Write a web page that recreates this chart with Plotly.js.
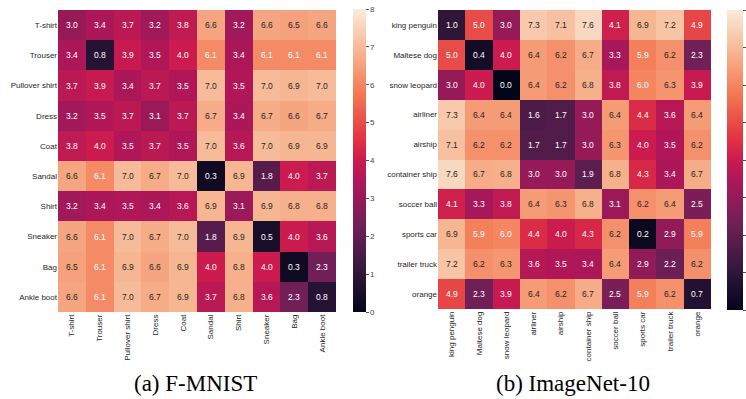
<!DOCTYPE html>
<html><head><meta charset="utf-8">
<script src="https://cdn.plot.ly/plotly-3.0.1.min.js"></script>
<style>body{margin:0;background:#fff}#chart{width:746px;height:399px}</style>
</head><body><div id="chart"></div>
<script>
const fmnistLabels = ["T-shirt","Trouser","Pullover shirt","Dress","Coat","Sandal","Shirt","Sneaker","Bag","Ankle boot"];
const fmnistValues = [
  [3.0,3.4,3.7,3.2,3.8,6.6,3.2,6.6,6.5,6.6],
  [3.4,0.8,3.9,3.5,4.0,6.1,3.4,6.1,6.1,6.1],
  [3.7,3.9,3.4,3.7,3.5,7.0,3.5,7.0,6.9,7.0],
  [3.2,3.5,3.7,3.1,3.7,6.7,3.4,6.7,6.6,6.7],
  [3.8,4.0,3.5,3.7,3.5,7.0,3.6,7.0,6.9,6.9],
  [6.6,6.1,7.0,6.7,7.0,0.3,6.9,1.8,4.0,3.7],
  [3.2,3.4,3.5,3.4,3.6,6.9,3.1,6.9,6.8,6.8],
  [6.6,6.1,7.0,6.7,7.0,1.8,6.9,0.5,4.0,3.6],
  [6.5,6.1,6.9,6.6,6.9,4.0,6.8,4.0,0.3,2.3],
  [6.6,6.1,7.0,6.7,6.9,3.7,6.8,3.6,2.3,0.8]
];
const imagenetLabels = ["king penguin","Maltese dog","snow leopard","airliner","airship","container ship","soccer ball","sports car","trailer truck","orange"];
const imagenetValues = [
  [1.0,5.0,3.0,7.3,7.1,7.6,4.1,6.9,7.2,4.9],
  [5.0,0.4,4.0,6.4,6.2,6.7,3.3,5.9,6.2,2.3],
  [3.0,4.0,0.0,6.4,6.2,6.8,3.8,6.0,6.3,3.9],
  [7.3,6.4,6.4,1.6,1.7,3.0,6.4,4.4,3.6,6.4],
  [7.1,6.2,6.2,1.7,1.7,3.0,6.3,4.0,3.5,6.2],
  [7.6,6.7,6.8,3.0,3.0,1.9,6.8,4.3,3.4,6.7],
  [4.1,3.3,3.8,6.4,6.3,6.8,3.1,6.2,6.4,2.5],
  [6.9,5.9,6.0,4.4,4.0,4.3,6.2,0.2,2.9,5.9],
  [7.2,6.2,6.3,3.6,3.5,3.4,6.4,2.9,2.2,6.2],
  [4.9,2.3,3.9,6.4,6.2,6.7,2.5,5.9,6.2,0.7]
];
const captions = ["(a) F-MNIST","(b) ImageNet-10"];
const colorbarTicks = [0,1,2,3,4,5,6,7,8];

const rocket = [
  [0.0,"#03051a"],[0.143,"#35193e"],[0.286,"#701f57"],[0.429,"#ad1759"],
  [0.5,"#cb1b4f"],[0.571,"#e13342"],[0.714,"#f37651"],[0.857,"#f6b48f"],[1.0,"#faebdd"]
];
const tickFont = {family:"Liberation Sans, Arial, sans-serif", size:8, color:"#262626"};

function hm(z, labels, xa, ya, cb){
  return {type:"heatmap", z:z, x:labels, y:labels, xaxis:xa, yaxis:ya,
    colorscale:rocket, zmin:0, zmax:8, colorbar:cb, hoverinfo:"skip"};
}
const cbBase = {outlinewidth:0, xanchor:"left", yanchor:"top", lenmode:"fraction",
  xpad:0, ypad:0, tickvals:colorbarTicks, ticks:"outside", ticklen:3, tickwidth:1,
  tickcolor:"#555", tickfont:{family:"Liberation Sans, Arial, sans-serif", size:8, color:"#444"}};

const data = [
  hm(fmnistValues, fmnistLabels, "x", "y", Object.assign({}, cbBase, {x:353/746, y:1-9/399, len:303/399, thickness:13})),
  hm(imagenetValues, imagenetLabels, "x2", "y2", Object.assign({}, cbBase, {x:727/746, y:1-10/399, len:300/399, thickness:16, showticklabels:false}))
];

const annotations = [];
function addCells(z, labels, xr, yr){
  z.forEach((row,i)=>row.forEach((v,j)=>{
    annotations.push({xref:xr, yref:yr, x:labels[j], y:labels[i], text:v.toFixed(1), showarrow:false,
      font:{family:"Liberation Sans, Arial, sans-serif", size:8.5, color: v>=6.15 ? "#262626" : "#ffffff"}});
  }));
}
addCells(fmnistValues, fmnistLabels, "x", "y");
addCells(imagenetValues, imagenetLabels, "x2", "y2");
annotations.push({xref:"paper", yref:"paper", x:195.5/746, y:1-383/399, text:captions[0], showarrow:false,
  xanchor:"center", yanchor:"middle", font:{family:"Liberation Serif, Times New Roman, serif", size:23, color:"#000"}});
annotations.push({xref:"paper", yref:"paper", x:572.5/746, y:1-383/399, text:captions[1], showarrow:false,
  xanchor:"center", yanchor:"middle", font:{family:"Liberation Serif, Times New Roman, serif", size:23, color:"#000"}});

const axX = {type:"category", tickangle:-90, tickfont:tickFont, showgrid:false, zeroline:false, showline:false, ticks:"", ticklen:0};
const axY = {type:"category", autorange:"reversed", tickfont:tickFont, showgrid:false, zeroline:false, showline:false, ticks:""};

const layout = {
  width:746, height:399, margin:{l:0,r:0,t:0,b:0}, paper_bgcolor:"#fff", plot_bgcolor:"#fff",
  showlegend:false,
  xaxis: Object.assign({}, axX, {domain:[58/746, 336/746], anchor:"y"}),
  yaxis: Object.assign({}, axY, {domain:[1-312/399, 1-10/399], anchor:"x"}),
  xaxis2: Object.assign({}, axX, {domain:[438/746, 711/746], anchor:"y2"}),
  yaxis2: Object.assign({}, axY, {domain:[1-309/399, 1-10/399], anchor:"x2"}),
  annotations: annotations
};
Plotly.newPlot("chart", data, layout, {staticPlot:true, displayModeBar:false});
</script></body></html>
